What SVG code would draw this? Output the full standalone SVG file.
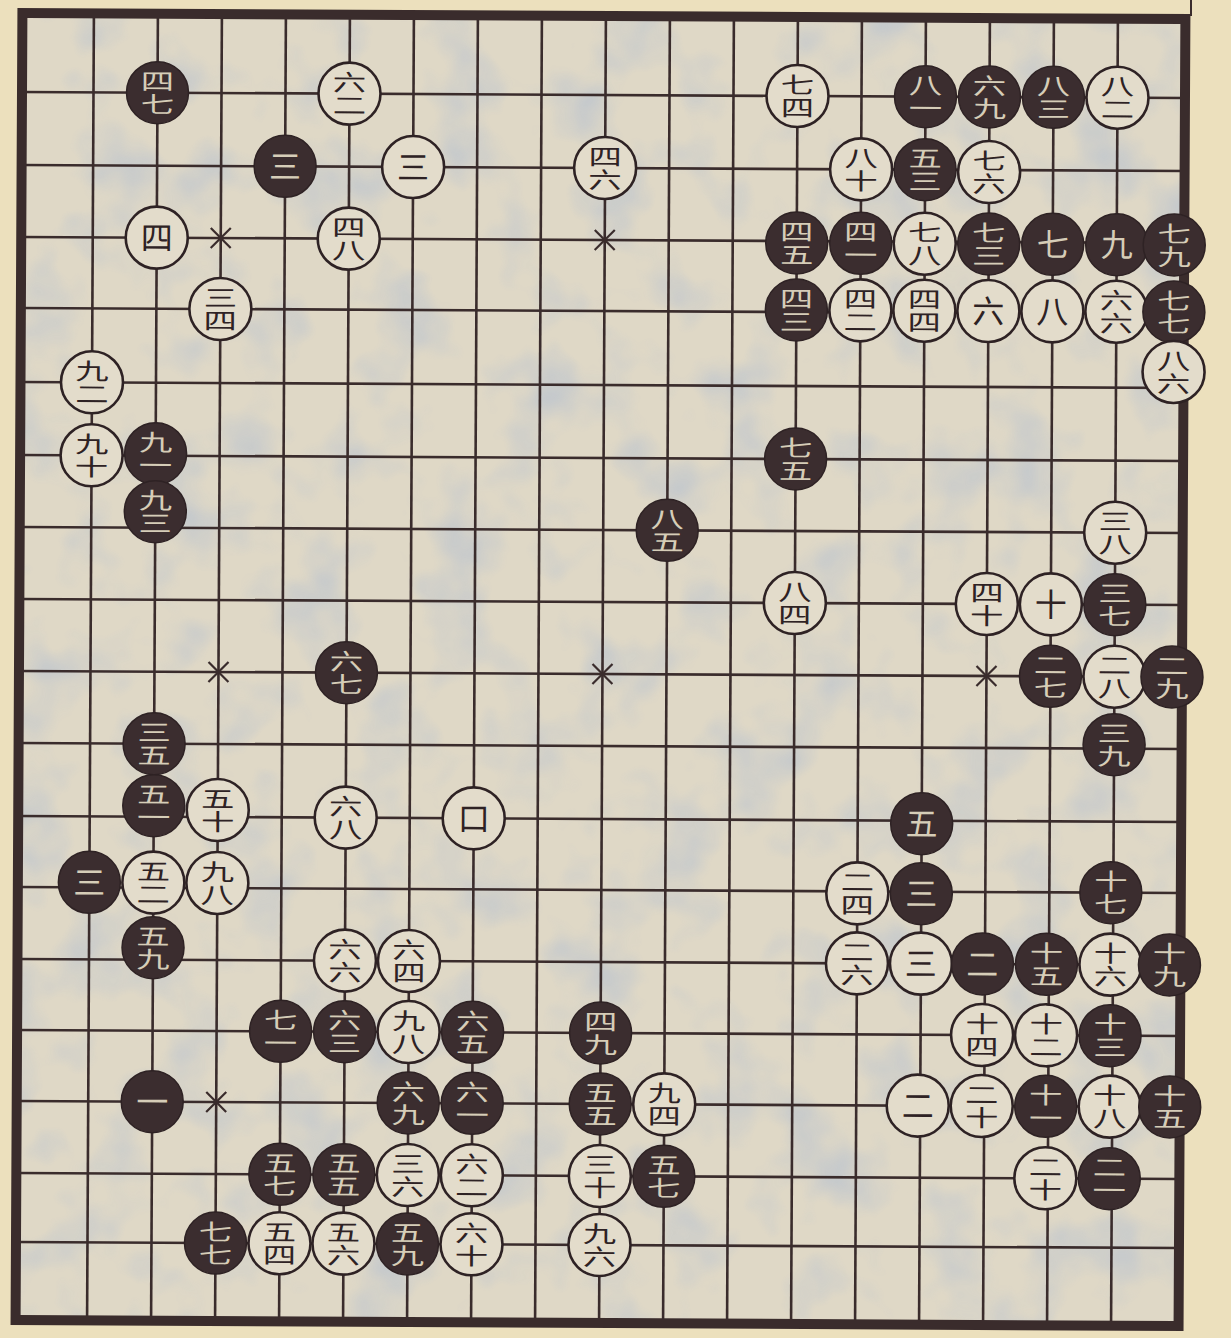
<svg xmlns="http://www.w3.org/2000/svg" width="1231" height="1338" viewBox="0 0 1231 1338">
<defs>
<style>
.grid line{stroke:#3a2c2c;stroke-width:2.6}
.star{stroke:#3a2c2c;stroke-width:2.2;fill:none}
.b{fill:#3b2d2f;stroke:#2e2224;stroke-width:1.5}
.w{fill:#e3dccb;stroke:#2e2224;stroke-width:2.6}
text{font-family:"Noto Sans CJK SC","Noto Sans CJK TC",sans-serif;text-anchor:middle}
.tb{fill:#d6cdb8}
.tw{fill:#2e2224}
.s1{font-size:32px}
.v{font-size:23px;writing-mode:vertical-rl}
</style>
<filter id="mottle" x="0" y="0" width="100%" height="100%">
<feTurbulence type="fractalNoise" baseFrequency="0.014" numOctaves="3" seed="11"/>
<feColorMatrix type="matrix" values="0 0 0 0 0.50  0 0 0 0 0.55  0 0 0 0 0.62  0 0 0 2.2 -1.05"/>
</filter>
</defs>
<rect width="1231" height="1338" fill="#ece0bd"/>
<line x1="1191" y1="0" x2="1191" y2="16" stroke="#3a2c2c" stroke-width="2"/>
<g id="board" transform="rotate(0.3 603 667)">
<rect x="19" y="16" width="1163" height="1307" fill="#dfd8c6"/>
<rect x="19" y="16" width="1163" height="1307" fill="#fff" filter="url(#mottle)" opacity="0.8"/>
<g class="grid">
<line x1="90.5" y1="16" x2="90.5" y2="1323"/><line x1="154.5" y1="16" x2="154.5" y2="1323"/><line x1="218.5" y1="16" x2="218.5" y2="1323"/><line x1="282.5" y1="16" x2="282.5" y2="1323"/><line x1="346.5" y1="16" x2="346.5" y2="1323"/><line x1="410.5" y1="16" x2="410.5" y2="1323"/><line x1="474.5" y1="16" x2="474.5" y2="1323"/><line x1="538.5" y1="16" x2="538.5" y2="1323"/><line x1="602.5" y1="16" x2="602.5" y2="1323"/><line x1="666.5" y1="16" x2="666.5" y2="1323"/><line x1="730.5" y1="16" x2="730.5" y2="1323"/><line x1="794.5" y1="16" x2="794.5" y2="1323"/><line x1="858.5" y1="16" x2="858.5" y2="1323"/><line x1="922.5" y1="16" x2="922.5" y2="1323"/><line x1="986.5" y1="16" x2="986.5" y2="1323"/><line x1="1050.5" y1="16" x2="1050.5" y2="1323"/><line x1="1114.5" y1="16" x2="1114.5" y2="1323"/>
<line x1="19" y1="95" x2="1182" y2="95"/><line x1="19" y1="168" x2="1182" y2="168"/><line x1="19" y1="240" x2="1182" y2="240"/><line x1="19" y1="311" x2="1182" y2="311"/><line x1="19" y1="385" x2="1182" y2="385"/><line x1="19" y1="458" x2="1182" y2="458"/><line x1="19" y1="530" x2="1182" y2="530"/><line x1="19" y1="602" x2="1182" y2="602"/><line x1="19" y1="674" x2="1182" y2="674"/><line x1="19" y1="746" x2="1182" y2="746"/><line x1="19" y1="819" x2="1182" y2="819"/><line x1="19" y1="890" x2="1182" y2="890"/><line x1="19" y1="962" x2="1182" y2="962"/><line x1="19" y1="1033" x2="1182" y2="1033"/><line x1="19" y1="1104" x2="1182" y2="1104"/><line x1="19" y1="1176" x2="1182" y2="1176"/><line x1="19" y1="1245" x2="1182" y2="1245"/>
</g>
<path class="star" d="M208.5 230L228.5 250M208.5 250L228.5 230M592.5 230L612.5 250M592.5 250L612.5 230M976.5 230L996.5 250M976.5 250L996.5 230M208.5 664L228.5 684M208.5 684L228.5 664M592.5 664L612.5 684M592.5 684L612.5 664M976.5 664L996.5 684M976.5 684L996.5 664M208.5 1094L228.5 1114M208.5 1114L228.5 1094M592.5 1094L612.5 1114M592.5 1114L612.5 1094M976.5 1094L996.5 1114M976.5 1114L996.5 1094"/>
<rect x="19" y="16" width="1163" height="1307" fill="none" stroke="#3a2c2c" stroke-width="10"/>
<g id="stones">
<g id="s01"><circle class="b" cx="154.5" cy="95" r="31"/><text class="tb v" transform="translate(154.5 95) scale(1.45 1)">四七</text></g>
<g id="s02"><circle class="w" cx="346.5" cy="95" r="31"/><text class="tw v" transform="translate(346.5 95) scale(1.45 1)">六二</text></g>
<g id="s03"><circle class="b" cx="282.5" cy="168" r="31"/><text class="tb s1" x="282.5" y="180">三</text></g>
<g id="s04"><circle class="w" cx="410.5" cy="168" r="31"/><text class="tw s1" x="410.5" y="180">三</text></g>
<g id="s05"><circle class="w" cx="154.5" cy="240" r="31"/><text class="tw s1" x="154.5" y="252">四</text></g>
<g id="s06"><circle class="w" cx="346.5" cy="240" r="31"/><text class="tw v" transform="translate(346.5 240) scale(1.45 1)">四八</text></g>
<g id="s07"><circle class="w" cx="218.5" cy="311" r="31"/><text class="tw v" transform="translate(218.5 311) scale(1.45 1)">三四</text></g>
<g id="s08"><circle class="w" cx="602.5" cy="168" r="31"/><text class="tw v" transform="translate(602.5 168) scale(1.45 1)">四六</text></g>
<g id="s09"><circle class="w" cx="794.5" cy="95" r="31"/><text class="tw v" transform="translate(794.5 95) scale(1.45 1)">七四</text></g>
<g id="s10"><circle class="b" cx="922.5" cy="95" r="31"/><text class="tb v" transform="translate(922.5 95) scale(1.45 1)">八一</text></g>
<g id="s11"><circle class="b" cx="986.5" cy="95" r="31"/><text class="tb v" transform="translate(986.5 95) scale(1.45 1)">六九</text></g>
<g id="s12"><circle class="b" cx="1050.5" cy="95" r="31"/><text class="tb v" transform="translate(1050.5 95) scale(1.45 1)">八三</text></g>
<g id="s13"><circle class="w" cx="1114.5" cy="95" r="31"/><text class="tw v" transform="translate(1114.5 95) scale(1.45 1)">八二</text></g>
<g id="s14"><circle class="w" cx="858.5" cy="168" r="31"/><text class="tw v" transform="translate(858.5 168) scale(1.45 1)">八十</text></g>
<g id="s15"><circle class="b" cx="922.5" cy="168" r="31"/><text class="tb v" transform="translate(922.5 168) scale(1.45 1)">五三</text></g>
<g id="s16"><circle class="w" cx="986.5" cy="170" r="31"/><text class="tw v" transform="translate(986.5 170) scale(1.45 1)">七六</text></g>
<g id="s17"><circle class="b" cx="794.5" cy="242" r="31"/><text class="tb v" transform="translate(794.5 242) scale(1.45 1)">四五</text></g>
<g id="s18"><circle class="b" cx="858.5" cy="242" r="31"/><text class="tb v" transform="translate(858.5 242) scale(1.45 1)">四一</text></g>
<g id="s19"><circle class="w" cx="922.5" cy="242" r="31"/><text class="tw v" transform="translate(922.5 242) scale(1.45 1)">七八</text></g>
<g id="s20"><circle class="b" cx="986.5" cy="242" r="31"/><text class="tb v" transform="translate(986.5 242) scale(1.45 1)">七三</text></g>
<g id="s21"><circle class="b" cx="1050.5" cy="242" r="31"/><text class="tb s1" x="1050.5" y="254">七</text></g>
<g id="s22"><circle class="b" cx="1114.5" cy="242" r="31"/><text class="tb s1" x="1114.5" y="254">九</text></g>
<g id="s23"><circle class="b" cx="1172" cy="242" r="31"/><text class="tb v" transform="translate(1172 242) scale(1.45 1)">七九</text></g>
<g id="s24"><circle class="b" cx="794.5" cy="309" r="31"/><text class="tb v" transform="translate(794.5 309) scale(1.45 1)">四三</text></g>
<g id="s25"><circle class="w" cx="858.5" cy="309" r="31"/><text class="tw v" transform="translate(858.5 309) scale(1.45 1)">四二</text></g>
<g id="s26"><circle class="w" cx="922.5" cy="309" r="31"/><text class="tw v" transform="translate(922.5 309) scale(1.45 1)">四四</text></g>
<g id="s27"><circle class="w" cx="986.5" cy="309" r="31"/><text class="tw s1" x="986.5" y="321">六</text></g>
<g id="s28"><circle class="w" cx="1050.5" cy="309" r="31"/><text class="tw s1" x="1050.5" y="321">八</text></g>
<g id="s29"><circle class="w" cx="1114.5" cy="309" r="31"/><text class="tw v" transform="translate(1114.5 309) scale(1.45 1)">六六</text></g>
<g id="s30"><circle class="b" cx="1172" cy="309" r="31"/><text class="tb v" transform="translate(1172 309) scale(1.45 1)">七七</text></g>
<g id="s31"><circle class="w" cx="1172" cy="369" r="31"/><text class="tw v" transform="translate(1172 369) scale(1.45 1)">八六</text></g>
<g id="s32"><circle class="b" cx="794.5" cy="458" r="31"/><text class="tb v" transform="translate(794.5 458) scale(1.45 1)">七五</text></g>
<g id="s33"><circle class="b" cx="666.5" cy="530" r="31"/><text class="tb v" transform="translate(666.5 530) scale(1.45 1)">八五</text></g>
<g id="s34"><circle class="w" cx="794.5" cy="602" r="31"/><text class="tw v" transform="translate(794.5 602) scale(1.45 1)">八四</text></g>
<g id="s35"><circle class="b" cx="346.5" cy="674" r="31"/><text class="tb v" transform="translate(346.5 674) scale(1.45 1)">六七</text></g>
<g id="s36"><circle class="w" cx="346.5" cy="819" r="31"/><text class="tw v" transform="translate(346.5 819) scale(1.45 1)">六八</text></g>
<g id="s37"><circle class="w" cx="474.5" cy="819" r="31"/><text class="tw s1" x="474.5" y="831">口</text></g>
<g id="s38"><circle class="w" cx="90.5" cy="385" r="31"/><text class="tw v" transform="translate(90.5 385) scale(1.45 1)">九二</text></g>
<g id="s39"><circle class="w" cx="90.5" cy="458" r="31"/><text class="tw v" transform="translate(90.5 458) scale(1.45 1)">九十</text></g>
<g id="s40"><circle class="b" cx="154.5" cy="456" r="31"/><text class="tb v" transform="translate(154.5 456) scale(1.45 1)">九一</text></g>
<g id="s41"><circle class="b" cx="154.5" cy="514" r="31"/><text class="tb v" transform="translate(154.5 514) scale(1.45 1)">九三</text></g>
<g id="s42"><circle class="b" cx="154.5" cy="746" r="31"/><text class="tb v" transform="translate(154.5 746) scale(1.45 1)">三五</text></g>
<g id="s43"><circle class="b" cx="154.5" cy="808" r="31"/><text class="tb v" transform="translate(154.5 808) scale(1.45 1)">五一</text></g>
<g id="s44"><circle class="w" cx="218.5" cy="812" r="31"/><text class="tw v" transform="translate(218.5 812) scale(1.45 1)">五十</text></g>
<g id="s45"><circle class="b" cx="90.5" cy="885" r="31"/><text class="tb s1" x="90.5" y="897">三</text></g>
<g id="s46"><circle class="w" cx="154.5" cy="885" r="31"/><text class="tw v" transform="translate(154.5 885) scale(1.45 1)">五二</text></g>
<g id="s47"><circle class="w" cx="218.5" cy="885" r="31"/><text class="tw v" transform="translate(218.5 885) scale(1.45 1)">九八</text></g>
<g id="s48"><circle class="b" cx="154.5" cy="950" r="31"/><text class="tb v" transform="translate(154.5 950) scale(1.45 1)">五九</text></g>
<g id="s49"><circle class="b" cx="154.5" cy="1104" r="31"/><text class="tb s1" x="154.5" y="1116">一</text></g>
<g id="s50"><circle class="w" cx="346.5" cy="962" r="31"/><text class="tw v" transform="translate(346.5 962) scale(1.45 1)">六六</text></g>
<g id="s51"><circle class="w" cx="410.5" cy="962" r="31"/><text class="tw v" transform="translate(410.5 962) scale(1.45 1)">六四</text></g>
<g id="s52"><circle class="b" cx="282.5" cy="1033" r="31"/><text class="tb v" transform="translate(282.5 1033) scale(1.45 1)">七一</text></g>
<g id="s53"><circle class="b" cx="346.5" cy="1033" r="31"/><text class="tb v" transform="translate(346.5 1033) scale(1.45 1)">六三</text></g>
<g id="s54"><circle class="w" cx="410.5" cy="1033" r="31"/><text class="tw v" transform="translate(410.5 1033) scale(1.45 1)">九八</text></g>
<g id="s55"><circle class="b" cx="474.5" cy="1033" r="31"/><text class="tb v" transform="translate(474.5 1033) scale(1.45 1)">六五</text></g>
<g id="s56"><circle class="b" cx="410.5" cy="1104" r="31"/><text class="tb v" transform="translate(410.5 1104) scale(1.45 1)">六九</text></g>
<g id="s57"><circle class="b" cx="474.5" cy="1104" r="31"/><text class="tb v" transform="translate(474.5 1104) scale(1.45 1)">六一</text></g>
<g id="s58"><circle class="b" cx="282.5" cy="1176" r="31"/><text class="tb v" transform="translate(282.5 1176) scale(1.45 1)">五七</text></g>
<g id="s59"><circle class="b" cx="346.5" cy="1176" r="31"/><text class="tb v" transform="translate(346.5 1176) scale(1.45 1)">五五</text></g>
<g id="s60"><circle class="w" cx="410.5" cy="1176" r="31"/><text class="tw v" transform="translate(410.5 1176) scale(1.45 1)">三六</text></g>
<g id="s61"><circle class="w" cx="474.5" cy="1176" r="31"/><text class="tw v" transform="translate(474.5 1176) scale(1.45 1)">六二</text></g>
<g id="s62"><circle class="b" cx="218.5" cy="1245" r="31"/><text class="tb v" transform="translate(218.5 1245) scale(1.45 1)">七七</text></g>
<g id="s63"><circle class="w" cx="282.5" cy="1245" r="31"/><text class="tw v" transform="translate(282.5 1245) scale(1.45 1)">五四</text></g>
<g id="s64"><circle class="w" cx="346.5" cy="1245" r="31"/><text class="tw v" transform="translate(346.5 1245) scale(1.45 1)">五六</text></g>
<g id="s65"><circle class="b" cx="410.5" cy="1245" r="31"/><text class="tb v" transform="translate(410.5 1245) scale(1.45 1)">五九</text></g>
<g id="s66"><circle class="w" cx="474.5" cy="1245" r="31"/><text class="tw v" transform="translate(474.5 1245) scale(1.45 1)">六十</text></g>
<g id="s67"><circle class="b" cx="602.5" cy="1033" r="31"/><text class="tb v" transform="translate(602.5 1033) scale(1.45 1)">四九</text></g>
<g id="s68"><circle class="b" cx="602.5" cy="1104" r="31"/><text class="tb v" transform="translate(602.5 1104) scale(1.45 1)">五五</text></g>
<g id="s69"><circle class="w" cx="666.5" cy="1104" r="31"/><text class="tw v" transform="translate(666.5 1104) scale(1.45 1)">九四</text></g>
<g id="s70"><circle class="w" cx="602.5" cy="1176" r="31"/><text class="tw v" transform="translate(602.5 1176) scale(1.45 1)">三十</text></g>
<g id="s71"><circle class="b" cx="666.5" cy="1176" r="31"/><text class="tb v" transform="translate(666.5 1176) scale(1.45 1)">五七</text></g>
<g id="s72"><circle class="w" cx="602.5" cy="1245" r="31"/><text class="tw v" transform="translate(602.5 1245) scale(1.45 1)">九六</text></g>
<g id="s73"><circle class="w" cx="1114.5" cy="530" r="31"/><text class="tw v" transform="translate(1114.5 530) scale(1.45 1)">三八</text></g>
<g id="s74"><circle class="w" cx="986.5" cy="602" r="31"/><text class="tw v" transform="translate(986.5 602) scale(1.45 1)">四十</text></g>
<g id="s75"><circle class="w" cx="1050.5" cy="602" r="31"/><text class="tw s1" x="1050.5" y="614">十</text></g>
<g id="s76"><circle class="b" cx="1114.5" cy="602" r="31"/><text class="tb v" transform="translate(1114.5 602) scale(1.45 1)">三七</text></g>
<g id="s77"><circle class="b" cx="1050.5" cy="674" r="31"/><text class="tb v" transform="translate(1050.5 674) scale(1.45 1)">二七</text></g>
<g id="s78"><circle class="w" cx="1114.5" cy="674" r="31"/><text class="tw v" transform="translate(1114.5 674) scale(1.45 1)">二八</text></g>
<g id="s79"><circle class="b" cx="1172" cy="674" r="31"/><text class="tb v" transform="translate(1172 674) scale(1.45 1)">二九</text></g>
<g id="s80"><circle class="b" cx="1114.5" cy="742" r="31"/><text class="tb v" transform="translate(1114.5 742) scale(1.45 1)">三九</text></g>
<g id="s81"><circle class="b" cx="922.5" cy="822" r="31"/><text class="tb s1" x="922.5" y="834">五</text></g>
<g id="s82"><circle class="b" cx="922.5" cy="892" r="31"/><text class="tb s1" x="922.5" y="904">三</text></g>
<g id="s83"><circle class="w" cx="858.5" cy="892" r="31"/><text class="tw v" transform="translate(858.5 892) scale(1.45 1)">二四</text></g>
<g id="s84"><circle class="w" cx="858.5" cy="962" r="31"/><text class="tw v" transform="translate(858.5 962) scale(1.45 1)">二六</text></g>
<g id="s85"><circle class="w" cx="922.5" cy="962" r="31"/><text class="tw s1" x="922.5" y="974">三</text></g>
<g id="s86"><circle class="b" cx="984" cy="962" r="31"/><text class="tb s1" x="984" y="974">二</text></g>
<g id="s87"><circle class="b" cx="1048" cy="962" r="31"/><text class="tb v" transform="translate(1048 962) scale(1.45 1)">十五</text></g>
<g id="s88"><circle class="w" cx="1112" cy="962" r="31"/><text class="tw v" transform="translate(1112 962) scale(1.45 1)">十六</text></g>
<g id="s89"><circle class="b" cx="1171" cy="962" r="31"/><text class="tb v" transform="translate(1171 962) scale(1.45 1)">十九</text></g>
<g id="s90"><circle class="b" cx="1112" cy="890" r="31"/><text class="tb v" transform="translate(1112 890) scale(1.45 1)">十七</text></g>
<g id="s91"><circle class="w" cx="984" cy="1033" r="31"/><text class="tw v" transform="translate(984 1033) scale(1.45 1)">十四</text></g>
<g id="s92"><circle class="w" cx="1048" cy="1033" r="31"/><text class="tw v" transform="translate(1048 1033) scale(1.45 1)">十二</text></g>
<g id="s93"><circle class="b" cx="1112" cy="1033" r="31"/><text class="tb v" transform="translate(1112 1033) scale(1.45 1)">十三</text></g>
<g id="s94"><circle class="w" cx="920" cy="1104" r="31"/><text class="tw s1" x="920" y="1116">二</text></g>
<g id="s95"><circle class="w" cx="984" cy="1104" r="31"/><text class="tw v" transform="translate(984 1104) scale(1.45 1)">二十</text></g>
<g id="s96"><circle class="b" cx="1048" cy="1104" r="31"/><text class="tb v" transform="translate(1048 1104) scale(1.45 1)">十一</text></g>
<g id="s97"><circle class="w" cx="1112" cy="1104" r="31"/><text class="tw v" transform="translate(1112 1104) scale(1.45 1)">十八</text></g>
<g id="s98"><circle class="b" cx="1172" cy="1104" r="31"/><text class="tb v" transform="translate(1172 1104) scale(1.45 1)">十五</text></g>
<g id="s99"><circle class="w" cx="1048" cy="1176" r="31"/><text class="tw v" transform="translate(1048 1176) scale(1.45 1)">二十</text></g>
<g id="s100"><circle class="b" cx="1112" cy="1176" r="31"/><text class="tb v" transform="translate(1112 1176) scale(1.45 1)">二一</text></g>
</g>
</g>
</svg>
